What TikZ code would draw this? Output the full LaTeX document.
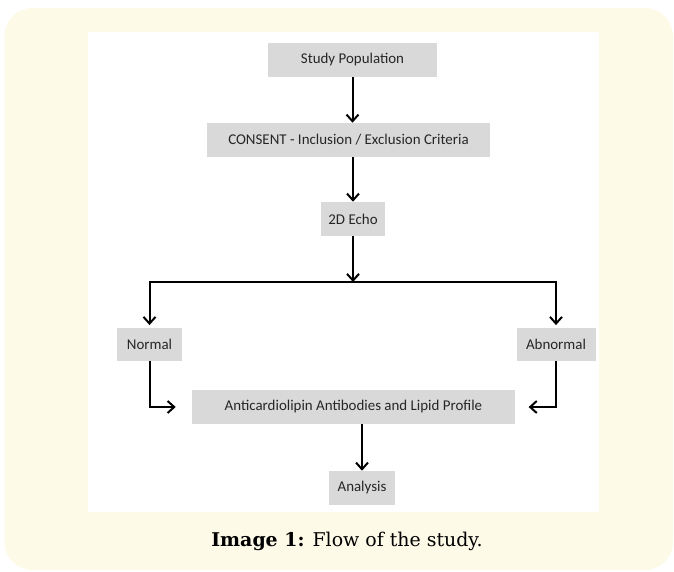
\documentclass[tikz,border=0pt]{standalone}
\usepackage{fontspec}
\setmainfont{DejaVu Serif}
\newfontfamily\boxfont{Carlito}
\usepackage{tikz}
\usetikzlibrary{arrows.meta, positioning, calc}
\definecolor{mycream}{RGB}{254,250,232}
\definecolor{mygray}{RGB}{217,217,217}
\definecolor{mytext}{RGB}{38,38,38}
\tikzset{
  box/.style={rectangle, fill=mygray, inner sep=0pt,
    minimum height=25.5pt, font=\boxfont\fontsize{11.2}{13}\selectfont,
    text=mytext},
  arrow/.style={-{Straight Barb[length=5pt, width=9pt, line width=1.5pt]},
    line width=1.5pt, color=black},
  line/.style={line width=1.5pt, color=black}
}
\begin{document}
\begin{tikzpicture}[x=0.75pt, y=-0.75pt]
  \useasboundingbox (0,0) rectangle (674,571);

  % Panel
  \fill[mycream, rounded corners=21pt] (4.5,8) rectangle (673,570);
  \fill[white] (88,32) rectangle (599,512);

  % Boxes
  \node[box, minimum width=126.75pt] (study) at (352.5,60) {Study Population};
  \node[box, minimum width=212.25pt] (consent) at (348.5,140) {CONSENT - Inclusion / Exclusion Criteria};
  \node[box, minimum width=48pt] (echo) at (353,219) {2D Echo};
  \node[box, minimum width=48.75pt, minimum height=24.75pt] (normal) at (149.5,344.5) {Normal};
  \node[box, minimum width=59.25pt, minimum height=24.75pt] (abnormal) at (556,344.5) {Abnormal};
  \node[box, minimum width=242.25pt] (anti) at (353.5,407) {Anticardiolipin Antibodies and Lipid Profile};
  \node[box, minimum width=49.5pt] (analysis) at (362,488) {Analysis};
  \coordinate (split) at (353,282);

  % Arrows
  \draw[arrow] (study) -- (study |- consent.north);
  \draw[arrow] (echo |- consent.south) -- (echo);
  \draw[arrow] (echo) -- (split);
  \draw[arrow, shorten >=2pt] (split) -| (normal);
  \draw[arrow, shorten >=2pt] (split) -| (abnormal);
  \draw[arrow, shorten >=12pt] (normal) |- (anti);
  \draw[arrow, shorten >=10pt] (abnormal) |- (anti);
  \draw[arrow] (analysis |- anti.south) -- (analysis);

  % Caption
  \node[font=\fontsize{14.2}{17}\selectfont] (caption) at (347,541) {\textbf{Image 1:} Flow of the study.};
\end{tikzpicture}
\end{document}
